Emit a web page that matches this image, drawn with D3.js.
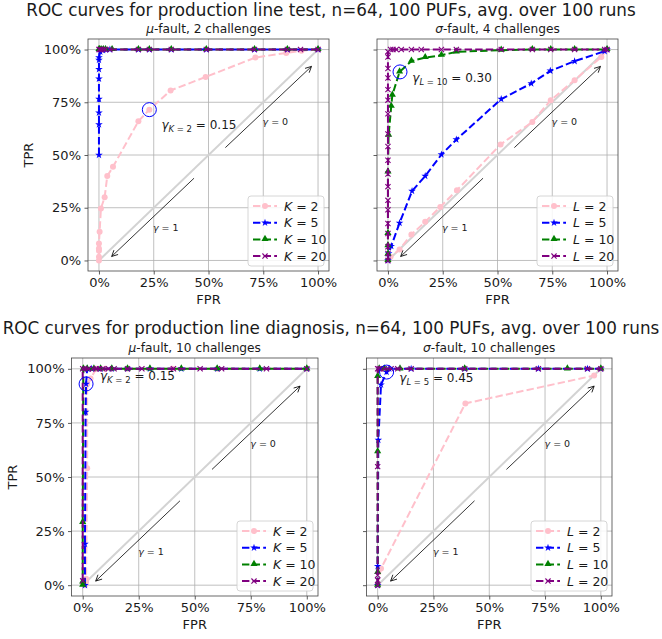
<!DOCTYPE html>
<html>
<head>
<meta charset="utf-8">
<script src="https://cdn.jsdelivr.net/npm/d3@7"></script>
<style>
  body { margin: 0; background: #fff; }
  text { font-family: "DejaVu Sans", sans-serif; }
</style>
</head>
<body>
<div id="chart"></div>
<script>
// ---- data: [FPR, TPR] pairs ----
var suptitles = ["ROC curves for production line test, n=64, 100 PUFs, avg. over 100 runs",
                 "ROC curves for production line diagnosis, n=64, 100 PUFs, avg. over 100 runs"];
var subtitles = [["μ", "-fault, 2 challenges"], ["σ", "-fault, 4 challenges"],
                 ["μ", "-fault, 10 challenges"], ["σ", "-fault, 10 challenges"]];
var levels = [2, 5, 10, 20];
var levelLetters = ["K", "L", "K", "L"];
var xTicks = [0, 0.25, 0.5, 0.75, 1];
var yTicks = [0, 0.25, 0.5, 0.75, 1];

var testMuK2 = [[0,0],[0,0.017],[0,0.046],[0,0.057],[0,0.08],[0.003,0.136],[0.009,0.246],[0.026,0.30],[0.038,0.40],[0.064,0.444],[0.18,0.66],[0.23,0.715],[0.327,0.806],[0.487,0.87],[0.714,0.962],[0.855,0.984],[0.924,0.994],[1,1]];
var testMuK5 = [[0,0.5],[0,0.645],[0,0.70],[0,0.765],[0,0.861],[0,0.907],[0,0.95],[0,0.962],[0.006,0.99],[0.018,0.997],[0.03,1],[0.05,1],[0.18,1],[0.23,1],[0.33,1],[0.49,1],[0.71,1],[0.86,1],[1,1]];
var testMuK10 = [[0,1],[0.003,1],[0.01,1],[0.02,1],[0.03,1],[0.06,1],[0.18,1],[0.23,1],[0.33,1],[0.49,1],[0.71,1],[0.86,1],[1,1]];
var testMuK20 = [[0,1],[0.005,1],[0.01,1],[0.02,1],[0.03,1],[0.05,1],[0.18,1],[0.23,1],[0.33,1],[0.49,1],[0.71,1],[0.86,1],[0.92,1],[1,1]];

var testSigmaL2 = [[0,0],[0.012,0.017],[0.053,0.052],[0.107,0.123],[0.17,0.183],[0.239,0.254],[0.315,0.333],[0.514,0.55],[0.659,0.657],[0.743,0.76],[0.852,0.855],[0.974,0.965],[1,1]];
var testSigmaL5 = [[0,0],[0.003,0.033],[0.015,0.068],[0.053,0.178],[0.11,0.329],[0.17,0.40],[0.244,0.502],[0.312,0.573],[0.517,0.765],[0.654,0.839],[0.741,0.899],[0.852,0.945],[0.989,0.992],[1,1]];
var testSigmaL10 = [[0,0],[0,0.03],[0,0.07],[0,0.128],[0,0.42],[0.003,0.594],[0.015,0.731],[0.02,0.784],[0.053,0.894],[0.107,0.945],[0.17,0.962],[0.244,0.973],[0.312,0.989],[0.517,0.997],[0.659,1],[0.743,1],[0.852,1],[1,1]];
var testSigmaL20 = [[0,0],[0,0.033],[0,0.065],[0,0.128],[0,0.175],[0,0.24],[0,0.285],[0,0.35],[0,0.41],[0,0.475],[0,0.54],[0,0.6],[0,0.695],[0,0.76],[0,0.81],[0,0.865],[0,0.91],[0,0.965],[0,0.99],[0.012,1],[0.023,1],[0.038,1],[0.061,1],[0.107,1],[0.152,1],[0.244,1],[0.312,1],[0.517,1],[0.659,1],[0.743,1],[0.852,1],[0.989,1],[1,1]];

var diagMuK2 = [[0.01,0],[0.015,0.015],[0.015,0.03],[0.02,0.54],[0.02,0.93],[0.035,0.955],[0.06,1],[0.1,1],[0.2,1],[0.4,1],[0.6,1],[1,1]];
var diagMuK5 = [[0.01,0],[0.01,0.19],[0.013,0.8],[0.015,0.93],[0.02,1],[0.04,1],[0.08,1],[0.13,1],[0.2,1],[0.3,1],[0.44,1],[0.6,1],[0.79,1],[1,1]];
var diagMuK10 = [[0,0],[0,0.015],[0,0.29],[0.003,1],[0.02,1],[0.05,1],[0.08,1],[0.13,1],[0.2,1],[0.3,1],[0.44,1],[0.6,1],[0.79,1],[1,1]];
var diagMuK20 = [[0,0.02],[0,1],[0.01,1],[0.025,1],[0.045,1],[0.06,1],[0.075,1],[0.09,1],[0.115,1],[0.14,1],[0.2,1],[0.264,1],[0.405,1],[0.524,1],[0.62,1],[0.82,1],[1,1]];

var diagSigmaL2 = [[0,0],[0.015,0.077],[0.393,0.84],[0.97,0.969],[1,1]];
var diagSigmaL5 = [[0,0],[0,0.088],[0.003,0.671],[0.015,0.926],[0.04,0.985],[0.052,1],[0.15,1],[0.39,1],[0.72,1],[0.94,1],[1,1]];
var diagSigmaL10 = [[0,0],[0,0.059],[0,0.617],[0,0.965],[0.007,1],[0.03,1],[0.1,1],[0.39,1],[0.85,1],[1,1]];
var diagSigmaL20 = [[0,0],[0,0.023],[0,0.046],[0,0.548],[0,1],[0.007,1],[0.015,1],[0.03,1],[0.06,1],[0.09,1],[0.15,1],[0.39,1],[0.72,1],[0.94,1],[1,1]];

// chosen operating point per panel, and its gamma value
var chosenPoints = [[0.23, 0.715], [0.055, 0.894], [0.015, 0.93], [0.04, 0.985]];
var chosenLevels = [2, 10, 2, 5];
var chosenGammas = ["0.15", "0.30", "0.15", "0.45"];
var chosenLabelAt = [[0.285, 0.625], [0.111, 0.847], [0.077, 0.95], [0.097, 0.94]];

var panelSeries = [
  [testMuK2, testMuK5, testMuK10, testMuK20],
  [testSigmaL2, testSigmaL5, testSigmaL10, testSigmaL20],
  [diagMuK2, diagMuK5, diagMuK10, diagMuK20],
  [diagSigmaL2, diagSigmaL5, diagSigmaL10, diagSigmaL20]
];

// ---- layout / style ----
var W = 662, H = 639;
var boxes = [
  { left: 88, right: 329, top: 39, bottom: 271, yLabels: true },
  { left: 377, right: 618, top: 39, bottom: 271, yLabels: false },
  { left: 71.5, right: 318, top: 358, bottom: 596, yLabels: true },
  { left: 366.5, right: 612, top: 358, bottom: 596, yLabels: false }
];
var colors = ["pink", "blue", "green", "purple"];
var markers = ["circle", "star", "triangle", "x"];
var txt = "#1a1a1a";

var svg = d3.select("#chart").append("svg")
  .attr("width", W).attr("height", H);

svg.append("defs").append("marker")
  .attr("id", "arrowhead")
  .attr("viewBox", "-8 -5 10 10")
  .attr("markerWidth", 10).attr("markerHeight", 10)
  .attr("markerUnits", "userSpaceOnUse")
  .attr("orient", "auto")
  .append("path")
    .attr("d", "M-6,-3L0,0L-6,3")
    .attr("fill", "none").attr("stroke", "black").attr("stroke-width", 0.8);

// suptitles
svg.append("text").attr("x", W / 2).attr("y", 16).attr("text-anchor", "middle")
  .attr("fill", txt).style("font-size", "16.8px").text(suptitles[0]);
svg.append("text").attr("x", W / 2).attr("y", 334).attr("text-anchor", "middle")
  .attr("fill", txt).style("font-size", "16.8px").text(suptitles[1]);

function drawMarker(g, type, x, y, color) {
  if (type === "circle") {
    g.append("circle").attr("cx", x).attr("cy", y).attr("r", 3).attr("fill", color);
  } else if (type === "star") {
    g.append("path").attr("d", d3.symbol().type(d3.symbolStar).size(18)())
      .attr("transform", "translate(" + x + "," + y + ")").attr("fill", color);
  } else if (type === "triangle") {
    g.append("path").attr("d", d3.symbol().type(d3.symbolTriangle).size(22)())
      .attr("transform", "translate(" + x + "," + (y - 0.5) + ")").attr("fill", color);
  } else {
    var s = 2.6;
    g.append("path").attr("d", "M" + (-s) + "," + (-s) + "L" + s + "," + s + "M" + (-s) + "," + s + "L" + s + "," + (-s))
      .attr("transform", "translate(" + x + "," + y + ")")
      .attr("stroke", color).attr("stroke-width", 1.1).attr("fill", "none");
  }
}

boxes.forEach(function(b, p) {
  var x = d3.scaleLinear().domain([-0.05, 1.05]).range([b.left, b.right]);
  var y = d3.scaleLinear().domain([-0.05, 1.05]).range([b.bottom, b.top]);
  var g = svg.append("g");

  // subtitle
  var st = g.append("text").attr("x", (b.left + b.right) / 2).attr("y", b.top - 6)
    .attr("text-anchor", "middle").attr("fill", txt).style("font-size", "12.2px");
  st.append("tspan").style("font-style", "italic").text(subtitles[p][0]);
  st.append("tspan").text(subtitles[p][1]);

  // grid
  g.append("g").selectAll("line").data(xTicks).join("line")
    .attr("x1", d => x(d)).attr("x2", d => x(d)).attr("y1", b.top).attr("y2", b.bottom)
    .attr("stroke", "#b0b0b0").attr("stroke-width", 0.8);
  g.append("g").selectAll("line").data(yTicks).join("line")
    .attr("y1", d => y(d)).attr("y2", d => y(d)).attr("x1", b.left).attr("x2", b.right)
    .attr("stroke", "#b0b0b0").attr("stroke-width", 0.8);

  // axes
  var xAxis = d3.axisBottom(x).tickValues(xTicks).tickFormat(d3.format(".0%")).tickSize(3.5).tickPadding(3.5);
  var yAxis = d3.axisLeft(y).tickValues(yTicks).tickFormat(b.yLabels ? d3.format(".0%") : "").tickSize(3.5).tickPadding(3.5);
  var gx = g.append("g").attr("transform", "translate(0," + b.bottom + ")").call(xAxis);
  var gy = g.append("g").attr("transform", "translate(" + b.left + ",0)").call(yAxis);
  [gx, gy].forEach(function(a) {
    a.select(".domain").remove();
    a.selectAll("text").style("font-size", "13px").attr("fill", txt);
    a.selectAll("line").attr("stroke", "#333").attr("stroke-width", 0.8);
  });
  g.append("text").attr("x", (b.left + b.right) / 2).attr("y", b.bottom + 33)
    .attr("text-anchor", "middle").attr("fill", txt).style("font-size", "13px").text("FPR");
  if (b.yLabels) {
    g.append("text").attr("transform", "translate(" + (b.left - 55) + "," + ((b.top + b.bottom) / 2) + ") rotate(-90)")
      .attr("text-anchor", "middle").attr("fill", txt).style("font-size", "13px").text("TPR");
  }

  // random-guess diagonal
  g.append("line").attr("x1", x(0)).attr("y1", y(0)).attr("x2", x(1)).attr("y2", y(1))
    .attr("stroke", "#d3d3d3").attr("stroke-width", 2);

  // gamma direction arrows
  g.append("line").attr("x1", x(0.577)).attr("y1", y(0.535)).attr("x2", x(0.97)).attr("y2", y(0.92))
    .attr("stroke", "black").attr("stroke-width", 0.8).attr("marker-end", "url(#arrowhead)");
  g.append("line").attr("x1", x(0.434)).attr("y1", y(0.39)).attr("x2", x(0.058)).attr("y2", y(0.019))
    .attr("stroke", "black").attr("stroke-width", 0.8).attr("marker-end", "url(#arrowhead)");
  [[0.805, 0.64, "0"], [0.305, 0.14, "1"]].forEach(function(t) {
    var tx = g.append("text").attr("x", x(t[0])).attr("y", y(t[1])).attr("text-anchor", "middle")
      .attr("fill", txt).style("font-size", "9.5px");
    tx.append("tspan").style("font-style", "italic").text("γ");
    tx.append("tspan").text(" = " + t[2]);
  });

  // ROC curves
  var line = d3.line().x(d => x(d[0])).y(d => y(d[1]));
  panelSeries[p].forEach(function(data, i) {
    g.append("path").datum(data).attr("d", line)
      .attr("fill", "none").attr("stroke", colors[i]).attr("stroke-width", 2)
      .attr("stroke-dasharray", "7.4,3.2");
    var mg = g.append("g");
    data.forEach(function(d) { drawMarker(mg, markers[i], x(d[0]), y(d[1]), colors[i]); });
  });

  // highlighted point
  g.append("circle").attr("cx", x(chosenPoints[p][0])).attr("cy", y(chosenPoints[p][1])).attr("r", 7)
    .attr("fill", "none").attr("stroke", "blue").attr("stroke-width", 1);
  var at = g.append("text").attr("x", x(chosenLabelAt[p][0])).attr("y", y(chosenLabelAt[p][1]))
    .attr("fill", txt).style("font-size", "12px");
  at.append("tspan").style("font-style", "italic").text("γ");
  at.append("tspan").attr("dy", 3).style("font-size", "8.5px").style("font-style", "italic").text(levelLetters[p]);
  at.append("tspan").style("font-size", "8.5px").text(" = " + chosenLevels[p]);
  at.append("tspan").attr("dy", -3).text(" = " + chosenGammas[p]);

  // frame
  g.append("rect").attr("x", b.left).attr("y", b.top).attr("width", b.right - b.left).attr("height", b.bottom - b.top)
    .attr("fill", "none").attr("stroke", "#444").attr("stroke-width", 0.8);

  // legend
  var lw = 76, lh = 70;
  var lx = b.right - 5 - lw, ly = b.bottom - 5 - lh;
  var lg = g.append("g").attr("transform", "translate(" + lx + "," + ly + ")");
  lg.append("rect").attr("width", lw).attr("height", lh).attr("rx", 3)
    .attr("fill", "white").attr("fill-opacity", 0.85).attr("stroke", "#ccc").attr("stroke-width", 0.8);
  levels.forEach(function(lev, i) {
    var ry = 10 + i * 16.7;
    lg.append("line").attr("x1", 5).attr("x2", 29).attr("y1", ry).attr("y2", ry)
      .attr("stroke", colors[i]).attr("stroke-width", 2).attr("stroke-dasharray", "7.4,3.2");
    drawMarker(lg, markers[i], 17, ry, colors[i]);
    var t = lg.append("text").attr("x", 36).attr("y", ry + 4.5).attr("fill", txt).style("font-size", "12.5px");
    t.append("tspan").style("font-style", "italic").text(levelLetters[p]);
    t.append("tspan").text(" = " + lev);
  });
});
</script>
</body>
</html>
